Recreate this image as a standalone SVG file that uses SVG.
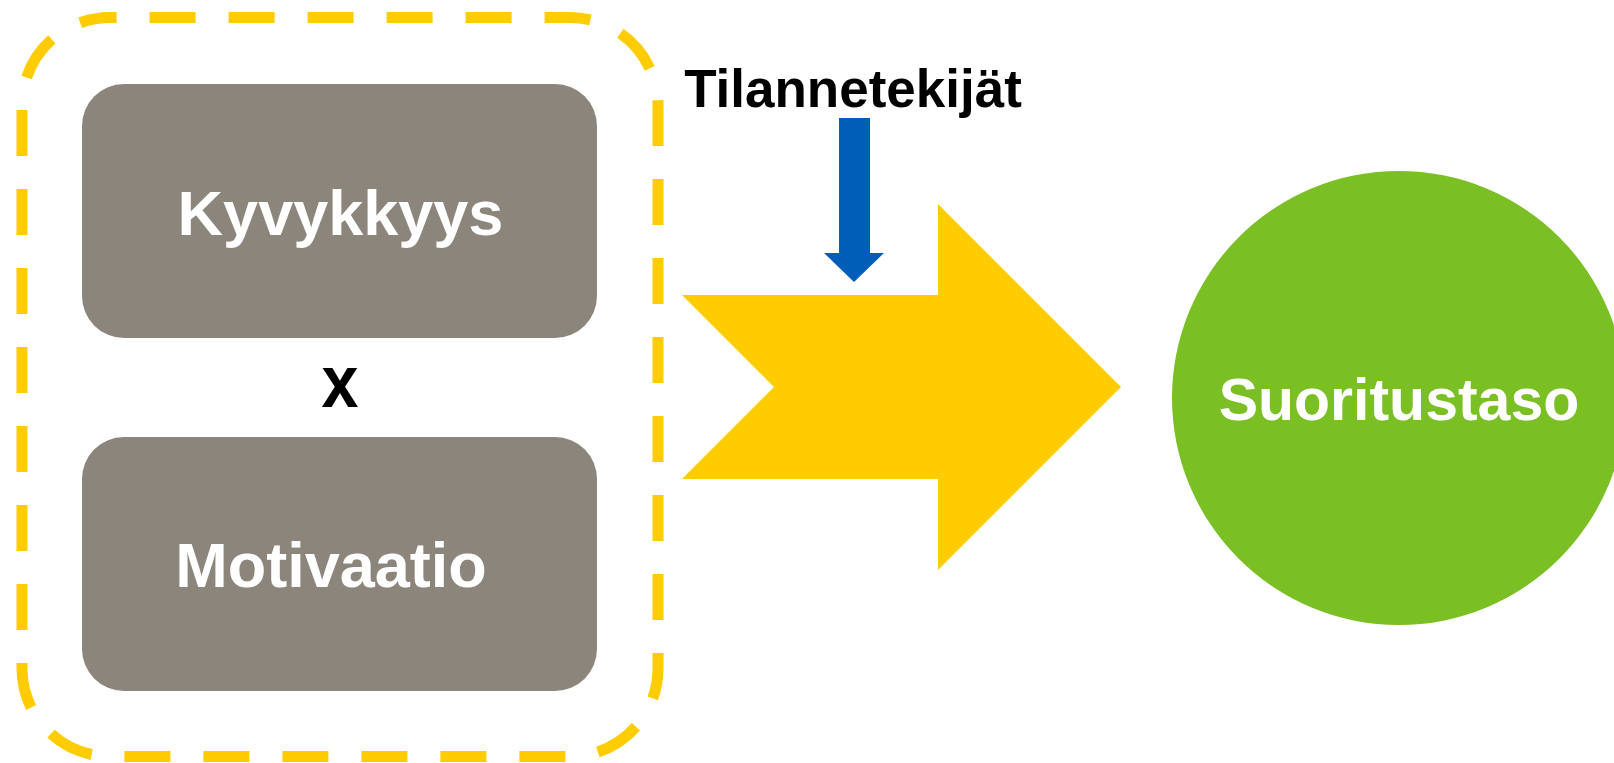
<svg xmlns="http://www.w3.org/2000/svg" width="1614" height="763" viewBox="0 0 1614 763">
<style>
.box{fill:#8C857B}
.lbl{font-family:"Liberation Sans",Arial,sans-serif;font-weight:bold;text-anchor:middle}
.w{fill:#FFFFFF}
.k{fill:#000000}
</style>
<rect width="1614" height="763" fill="#FFFFFF"/>
<g id="group-frame">
<path d="M110,17.5 H570 A88,88 0 0 1 658,105.5 V668.5 A88,88 0 0 1 570,756.5 H110 A88,88 0 0 1 22,668.5 V105.5 A88,88 0 0 1 110,17.5 Z" fill="none" stroke="#FFCC00" stroke-width="11" stroke-dasharray="46 33" stroke-dashoffset="39.4"/>
</g>
<g id="node-kyvykkyys">
<rect class="box" x="82" y="84" width="515" height="254" rx="42" ry="42"/>
<text class="lbl w" x="340.5" y="235" font-size="63">Kyvykkyys</text>
</g>
<g id="label-x">
<text class="lbl k" x="340" y="407" font-size="75" textLength="37" lengthAdjust="spacingAndGlyphs">x</text>
</g>
<g id="node-motivaatio">
<rect class="box" x="82" y="437" width="515" height="254" rx="42" ry="42"/>
<text class="lbl w" x="331" y="587" font-size="63">Motivaatio</text>
</g>
<g id="label-tilannetekijat">
<text class="lbl k" x="853" y="107" font-size="53">Tilannetekijät</text>
</g>
<g id="node-suoritustaso">
<circle cx="1399" cy="398" r="227" fill="#7ABF24"/>
<text class="lbl w" x="1399" y="420" font-size="59">Suoritustaso</text>
</g>
<g id="connectors">
<polygon points="682,295 938,295 938,204 1121,387 938,570 938,479 682,479 774,387" fill="#FFCC00"/>
<polygon points="839,118 870,118 870,253 884,253 854,282 824,253 839,253" fill="#005EB8"/>
</g>
</svg>
